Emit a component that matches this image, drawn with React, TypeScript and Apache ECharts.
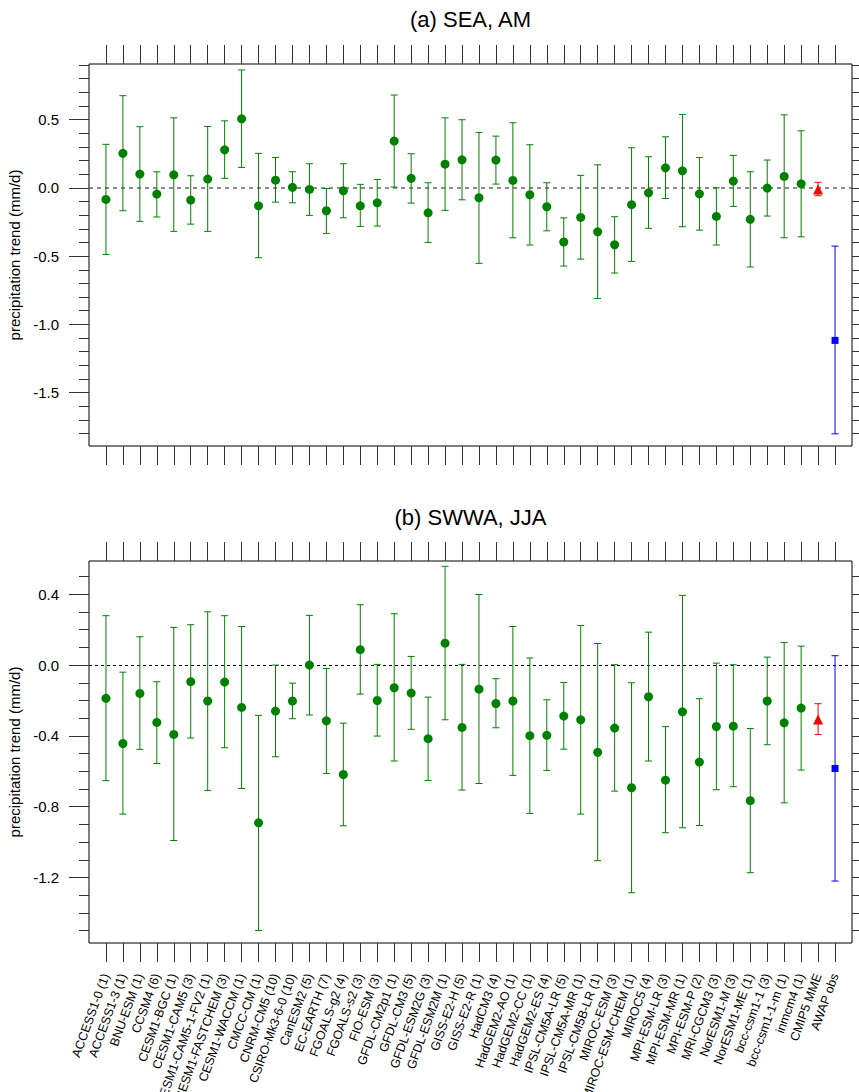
import React, { useEffect, useRef } from "react";
import * as echarts from "echarts";

const modelNames: string[] = [
  "ACCESS1-0 (1)", "ACCESS1-3 (1)", "BNU-ESM (1)", "CCSM4 (6)", "CESM1-BGC (1)", "CESM1-CAM5 (3)",
  "CESM1-CAM5-1-FV2 (1)", "CESM1-FASTCHEM (3)", "CESM1-WACCM (1)", "CMCC-CM (1)", "CNRM-CM5 (10)",
  "CSIRO-Mk3-6-0 (10)", "CanESM2 (5)", "EC-EARTH (7)", "FGOALS-g2 (4)", "FGOALS-s2 (3)", "FIO-ESM (3)",
  "GFDL-CM2p1 (1)", "GFDL-CM3 (5)", "GFDL-ESM2G (3)", "GFDL-ESM2M (1)", "GISS-E2-H (5)", "GISS-E2-R (1)",
  "HadCM3 (4)", "HadGEM2-AO (1)", "HadGEM2-CC (1)", "HadGEM2-ES (4)", "IPSL-CM5A-LR (5)", "IPSL-CM5A-MR (1)",
  "IPSL-CM5B-LR (1)", "MIROC-ESM (3)", "MIROC-ESM-CHEM (1)", "MIROC5 (4)", "MPI-ESM-LR (3)", "MPI-ESM-MR (1)",
  "MPI-ESM-P (2)", "MRI-CGCM3 (3)", "NorESM1-M (3)", "NorESM1-ME (1)", "bcc-csm1-1 (3)", "bcc-csm1-1-m (1)",
  "inmcm4 (1)", "CMIP5 MME", "AWAP obs",
];

// (a) SEA, AM
const seaMean: number[] = [-0.085, 0.252, 0.10, -0.046, 0.095, -0.09, 0.064, 0.278, 0.505, -0.132, 0.056, 0.003, -0.012, -0.168, -0.022, -0.132, -0.11, 0.342, 0.069, -0.183, 0.173, 0.205, -0.073, 0.203, 0.054, -0.051, -0.139, -0.397, -0.217, -0.322, -0.417, -0.124, -0.037, 0.146, 0.124, -0.044, -0.21, 0.049, -0.231, -0.002, 0.083, 0.029, -0.012, -1.117];
const seaHigh: number[] = [0.318, 0.674, 0.447, 0.117, 0.512, 0.088, 0.449, 0.49, 0.862, 0.252, 0.222, 0.117, 0.176, -0.005, 0.176, 0.025, 0.061, 0.679, 0.249, 0.037, 0.512, 0.498, 0.405, 0.378, 0.476, 0.315, 0.037, -0.22, 0.091, 0.168, -0.212, 0.293, 0.227, 0.373, 0.537, 0.222, 0.0, 0.237, 0.117, 0.203, 0.534, 0.417, 0.04, -0.427];
const seaLow: number[] = [-0.488, -0.168, -0.246, -0.214, -0.319, -0.266, -0.319, 0.069, 0.149, -0.512, -0.105, -0.11, -0.202, -0.334, -0.22, -0.283, -0.28, 0.005, -0.112, -0.4, -0.165, -0.088, -0.553, 0.027, -0.366, -0.419, -0.315, -0.573, -0.522, -0.81, -0.624, -0.539, -0.297, -0.078, -0.285, -0.31, -0.419, -0.136, -0.58, -0.207, -0.366, -0.359, -0.058, -1.801];

// (b) SWWA, JJA
const swwaMean: number[] = [-0.188, -0.443, -0.16, -0.324, -0.392, -0.094, -0.203, -0.096, -0.239, -0.891, -0.26, -0.203, 0.0, -0.315, -0.618, 0.087, -0.2, -0.128, -0.158, -0.416, 0.124, -0.352, -0.136, -0.217, -0.203, -0.399, -0.397, -0.288, -0.309, -0.493, -0.356, -0.693, -0.179, -0.65, -0.264, -0.548, -0.347, -0.345, -0.766, -0.203, -0.326, -0.243, -0.307, -0.584];
const swwaHigh: number[] = [0.279, -0.04, 0.16, -0.094, 0.213, 0.228, 0.301, 0.279, 0.218, -0.284, 0.0, -0.102, 0.281, -0.019, -0.328, 0.341, 0.004, 0.29, 0.049, -0.181, 0.558, 0.004, 0.399, -0.077, 0.218, 0.04, -0.196, -0.098, 0.224, 0.122, 0.002, -0.1, 0.186, -0.348, 0.394, -0.19, 0.011, 0.002, -0.358, 0.045, 0.128, 0.107, -0.218, 0.053];
const swwaLow: number[] = [-0.653, -0.842, -0.476, -0.556, -0.991, -0.412, -0.708, -0.467, -0.697, -1.499, -0.518, -0.303, -0.282, -0.612, -0.908, -0.164, -0.401, -0.542, -0.363, -0.652, -0.309, -0.706, -0.669, -0.354, -0.623, -0.838, -0.595, -0.475, -0.842, -1.105, -0.712, -1.286, -0.542, -0.947, -0.919, -0.906, -0.704, -0.687, -1.173, -0.45, -0.778, -0.593, -0.392, -1.22];

const seaMajorTicks: number[] = [-1.5, -1.0, -0.5, 0.0, 0.5];
const swwaMajorTicks: number[] = [-1.2, -0.8, -0.4, 0.0, 0.4];

const titles: string[] = ["(a) SEA, AM", "(b) SWWA, JJA"];
const yName = "precipitation trend (mm/d)";

const FONT = "Liberation Sans, Arial, Helvetica, sans-serif";
const GREEN = "#008000";
const RED = "#ff0000";
const BLUE = "#0000ff";
const TICK = "#333333";

function tenths(lo: number, hi: number): number[] {
  const out: number[] = [];
  for (let k = Math.round(lo * 10); k <= Math.round(hi * 10); k++) out.push(k / 10);
  return out;
}

export default function App() {
  const ref = useRef<HTMLDivElement>(null);

  useEffect(() => {
    if (!ref.current) return;
    const chart = echarts.init(ref.current, undefined, { renderer: "svg" });

    const n = modelNames.length;
    const positions = modelNames.map((_, i) => i + 1);

    const panels = [
      { mean: seaMean, low: seaLow, high: seaHigh, min: -1.89, max: 0.906, majors: seaMajorTicks, top: 64, zero: { color: "#666666", width: 1.5, type: [4, 4] as any } },
      { mean: swwaMean, low: swwaLow, high: swwaHigh, min: -1.57, max: 0.588, majors: swwaMajorTicks, top: 561, zero: { color: "#000000", width: 1, type: [3, 3] as any } },
    ];

    const grids: any[] = [];
    const xAxes: any[] = [];
    const yAxes: any[] = [];
    const series: any[] = [];

    panels.forEach((p, gi) => {
      grids.push({
        left: 89, top: p.top, width: 763, height: 382, show: true, borderColor: "#000", borderWidth: 1,
        backgroundColor: "transparent", containLabel: false, outerBoundsMode: "none",
      });
      const baseX = {
        type: "value", gridIndex: gi, min: 0, max: n + 1,
        axisLine: { show: false, onZero: false }, splitLine: { show: false },
        axisTick: { show: true, inside: false, length: 19, customValues: positions, lineStyle: { color: TICK, width: 1 } },
      };
      xAxes.push({
        ...baseX, position: "bottom",
        axisLabel: gi === 1 ? {
          show: true, customValues: positions, rotate: 70, margin: 31, fontSize: 12.5, fontFamily: FONT, color: "#000",
          formatter: (v: number) => modelNames[Math.round(v) - 1] ?? "",
        } : { show: false },
      });
      xAxes.push({ ...baseX, position: "top", axisLabel: { show: false } });

      const allTenths = tenths(Math.ceil(p.min * 10) / 10, Math.floor(p.max * 10) / 10);
      const minors = allTenths.filter((v) => !p.majors.some((m) => Math.abs(m - v) < 1e-6));
      const baseY = { type: "value", gridIndex: gi, min: p.min, max: p.max, axisLine: { show: false, onZero: false }, splitLine: { show: false } };
      yAxes.push({
        ...baseY, position: "left", name: yName, nameLocation: "middle", nameGap: 62, nameRotate: 90,
        nameTextStyle: { fontSize: 15, fontFamily: FONT, color: "#000" },
        axisTick: { show: true, inside: false, length: 20, customValues: p.majors, lineStyle: { color: TICK, width: 1 } },
        axisLabel: { show: true, customValues: p.majors, margin: 30, fontSize: 15, fontFamily: FONT, color: "#000", formatter: (v: number) => v.toFixed(1) },
      });
      yAxes.push({
        ...baseY, position: "left",
        axisTick: { show: true, inside: false, length: 10, customValues: minors, lineStyle: { color: TICK, width: 1 } },
        axisLabel: { show: false },
      });
      yAxes.push({
        ...baseY, position: "right",
        axisTick: { show: true, inside: false, length: 10, customValues: allTenths, lineStyle: { color: TICK, width: 1 } },
        axisLabel: { show: false },
      });

      const xi = gi * 2;
      const yi = gi * 3;
      const barData = p.mean.map((_, i) => [i + 1, p.low[i], p.high[i], i < n - 2 ? 0 : i === n - 2 ? 1 : 2]);
      const colors = [GREEN, RED, BLUE];
      series.push({
        type: "custom", xAxisIndex: xi, yAxisIndex: yi, silent: true, z: 2,
        data: barData,
        renderItem: (_params: any, api: any) => {
          const x = api.value(0), lo = api.value(1), hi = api.value(2), c = api.value(3);
          const a = api.coord([x, lo]);
          const b = api.coord([x, hi]);
          const color = colors[c];
          const w = 3.5;
          const style = { stroke: color, lineWidth: 1, fill: "none" };
          return {
            type: "group",
            children: [
              { type: "line", shape: { x1: a[0], y1: a[1], x2: b[0], y2: b[1] }, style },
              { type: "line", shape: { x1: a[0] - w, y1: a[1], x2: a[0] + w, y2: a[1] }, style },
              { type: "line", shape: { x1: b[0] - w, y1: b[1], x2: b[0] + w, y2: b[1] }, style },
            ],
          };
        },
      });
      series.push({
        type: "scatter", xAxisIndex: xi, yAxisIndex: yi, silent: true, z: 3,
        symbol: "circle", symbolSize: 9, itemStyle: { color: GREEN, opacity: 1 },
        data: p.mean.slice(0, n - 2).map((v, i) => [i + 1, v]),
        markLine: {
          silent: true, symbol: "none", label: { show: false }, z: 1,
          lineStyle: { color: p.zero.color, width: p.zero.width, type: p.zero.type },
          data: [{ yAxis: 0 }],
        },
      });
      series.push({
        type: "scatter", xAxisIndex: xi, yAxisIndex: yi, silent: true, z: 3,
        symbol: "triangle", symbolSize: 10, itemStyle: { color: RED, opacity: 1 },
        data: [[n - 1, p.mean[n - 2]]],
      });
      series.push({
        type: "scatter", xAxisIndex: xi, yAxisIndex: yi, silent: true, z: 3,
        symbol: "rect", symbolSize: 7, itemStyle: { color: BLUE, opacity: 1 },
        data: [[n, p.mean[n - 1]]],
      });
    });

    chart.setOption({
      animation: false,
      backgroundColor: "#ffffff",
      grid: grids,
      xAxis: xAxes,
      yAxis: yAxes,
      series,
      graphic: [
        { type: "text", x: 470.5, y: 19, style: { text: titles[0], font: `22px ${FONT}`, fill: "#000", align: "center", verticalAlign: "middle" } },
        { type: "text", x: 470.5, y: 517, style: { text: titles[1], font: `22px ${FONT}`, fill: "#000", align: "center", verticalAlign: "middle" } },
      ],
    });

    return () => chart.dispose();
  }, []);

  return <div ref={ref} style={{ position: "absolute", left: 0, top: 0, width: 859, height: 1092 }} />;
}
